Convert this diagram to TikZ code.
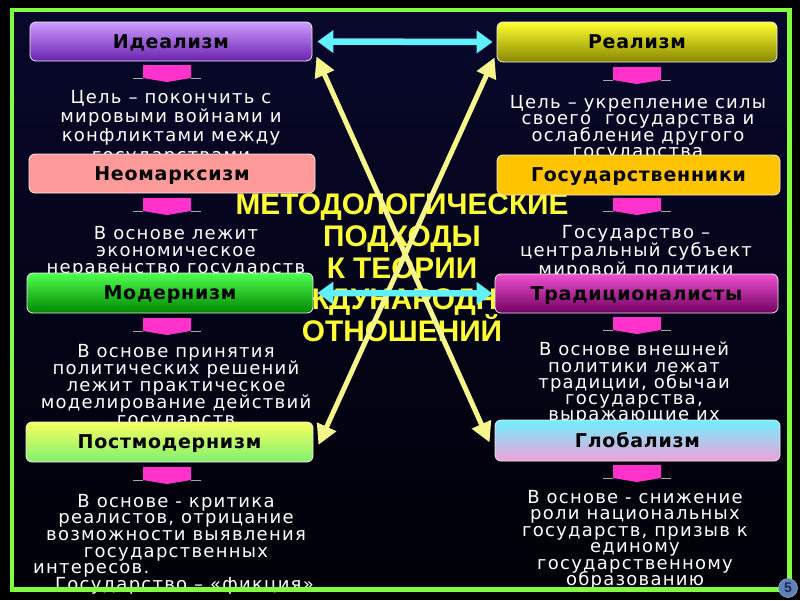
\documentclass[tikz,border=0pt]{standalone}
\usepackage{fontspec}
\usetikzlibrary{arrows.meta,calc}
\newfontfamily\bodyfont[LetterSpace=7]{DejaVu Sans}
\newfontfamily\labelfont[LetterSpace=4]{DejaVu Sans}
\newfontfamily\titlefont{Liberation Sans}
\setlength\lineskiplimit{-30pt}
\definecolor{bgtop}{HTML}{08082C}
\definecolor{bgmid}{HTML}{12125C}
\definecolor{bgbot}{HTML}{000006}
\definecolor{framegreen}{HTML}{80FF40}
\definecolor{cyanarr}{HTML}{60F0FF}
\definecolor{yelarr}{HTML}{F6F68C}
\definecolor{pinkarr}{HTML}{FF33CC}
\definecolor{titleyel}{HTML}{FFFF33}
\definecolor{numblue}{HTML}{6080B8}
\definecolor{numdark}{HTML}{1A2A50}
\newcommand\pinkarrow[2]{%
  \fill[pinkarr] (#1-24,#2) -- (#1+24,#2) -- (#1+24,#2+13) -- (#1,#2+17) -- (#1-24,#2+13) -- cycle;
  \draw[gray!70, line width=0.8pt] (#1-34,#2+13) -- (#1-24,#2+13) (#1+24,#2+13) -- (#1+34,#2+13);
}
\begin{document}
\begin{tikzpicture}[x=1pt,y=-1pt,
  box/.style={rounded corners=6pt, draw=white!85!gray, line width=0.8pt, inner sep=0pt,
    font=\labelfont\bfseries\fontsize{19}{20}\selectfont, text=black,
    text height=13.6pt, text depth=0pt},
  txt/.style={anchor=north, align=center, inner sep=0pt, text=white},
  cyanline/.style={cyanarr, line width=6.5pt, {Triangle[length=16pt,width=22pt]}-{Triangle[length=16pt,width=22pt]}},
  yelline/.style={yelarr, line width=5pt, {Triangle[length=20pt,width=20pt]}-{Triangle[length=20pt,width=20pt]}}
]
\useasboundingbox (0,0) rectangle (800,600);
\fill[black] (0,0) rectangle (800,600);
\fill[top color=bgtop, middle color=bgmid, bottom color=bgbot] (12,10) rectangle (789.5,589.5);

% body texts
\node[txt, font=\bodyfont\fontsize{18}{19.3}\selectfont] (tl1) at (171,89.9)
  {Цель – покончить с\\мировыми войнами и\\конфликтами между\\государствами};
\node[txt, font=\bodyfont\fontsize{18}{17}\selectfont] (tl2) at (176,225.9)
  {В основе лежит\\экономическое\\неравенство государств};
\node[txt, font=\bodyfont\fontsize{18}{17}\selectfont] (tl3) at (176,343.9)
  {В основе принятия\\политических решений\\лежит практическое\\моделирование действий\\государств};
\node[txt, font=\bodyfont\fontsize{18}{16.7}\selectfont] (tl4) at (176,493.9)
  {В основе - критика\\реалистов, отрицание\\возможности выявления\\государственных};
\node[anchor=base west, inner sep=0pt, text=white, font=\bodyfont\fontsize{18}{17}\selectfont] (tl5) at (33,573) {интересов.};
\node[anchor=base west, inner sep=0pt, text=white, font=\bodyfont\fontsize{18}{17}\selectfont] (tl6) at (55,590) {Государство – «фикция»};

\node[txt, font=\bodyfont\fontsize{18}{16.5}\selectfont] (tr1) at (638,94.9)
  {Цель – укрепление силы\\своего\ \ государства и\\ослабление другого\\государства};
\node[txt, font=\bodyfont\fontsize{18}{18.5}\selectfont] (tr2) at (636,224.9)
  {Государство –\\центральный субъект\\мировой политики};
\node[txt, font=\bodyfont\fontsize{18}{16.3}\selectfont] (tr3) at (634,341.9)
  {В основе внешней\\политики лежат\\традиции, обычаи\\государства,\\выражающие их};
\node[txt, font=\bodyfont\fontsize{18}{16.5}\selectfont] (tr4) at (635,489.9)
  {В основе - снижение\\роли национальных\\государств, призыв к\\единому\\государственному\\образованию};

% title
\node[anchor=north, align=center, inner sep=0pt, text=titleyel,
  font=\titlefont\bfseries\fontsize{29.8}{31.7}\selectfont] (title) at (402,193.7)
  {МЕТОДОЛОГИЧЕСКИЕ\\ПОДХОДЫ\\К ТЕОРИИ\\МЕЖДУНАРОДНЫХ\\ОТНОШЕНИЙ};

% boxes
\node[box, minimum width=282pt, minimum height=39pt, top color={rgb,255:red,205;green,155;blue,255}, bottom color={rgb,255:red,105;green,35;blue,175}] (ideal) at (171,41.5) {Идеализм};
\node[box, minimum width=286pt, minimum height=39pt, fill={rgb,255:red,255;green,154;blue,154}] (neo) at (172,173.5) {Неомарксизм};
\node[box, minimum width=286pt, minimum height=40pt, top color={rgb,255:red,80;green,255;blue,80}, bottom color={rgb,255:red,0;green,135;blue,0}] (modern) at (170,293) {Модернизм};
\node[box, minimum width=287pt, minimum height=40pt, top color={rgb,255:red,248;green,255;blue,96}, bottom color={rgb,255:red,128;green,240;blue,112}] (postm) at (169.5,442) {Постмодернизм};
\node[box, minimum width=280pt, minimum height=40pt, top color={rgb,255:red,255;green,255;blue,48}, bottom color={rgb,255:red,135;green,135;blue,0}] (real) at (637,42) {Реализм};
\node[box, minimum width=283pt, minimum height=40pt, fill={rgb,255:red,255;green,196;blue,0}] (gos) at (638.5,175) {Государственники};
\node[box, minimum width=283pt, minimum height=39pt, top color={rgb,255:red,240;green,80;blue,208}, bottom color={rgb,255:red,112;green,0;blue,96}] (trad) at (636.5,293.5) {Традиционалисты};
\node[box, minimum width=285pt, minimum height=41pt, top color={rgb,255:red,112;green,240;blue,255}, bottom color={rgb,255:red,240;green,160;blue,216}] (glob) at (637.5,440.5) {Глобализм};

% connectors
\draw[yelline] ($(ideal.south east)+(4,-5)$) -- ($(glob.west)+(-5,2)$);
\draw[yelline] ($(real.south west)+(-2,-5)$) -- ($(postm.east)+(5,3)$);
\draw[cyanline, shorten <=5pt, shorten >=4pt] (ideal.east) -- (real.west);
\draw[cyanline, shorten <=4pt, shorten >=2pt] (modern.east) -- (trad.west);

% pink arrows
\pinkarrow{167}{65}
\pinkarrow{167}{198}
\pinkarrow{167}{318}
\pinkarrow{167}{467}
\pinkarrow{637}{67}
\pinkarrow{637}{198}
\pinkarrow{637}{317}
\pinkarrow{637}{465}

% frame
\draw[framegreen, line width=4.5pt] (12,10) rectangle (789.5,589.5);
\node[circle, fill=numblue, draw=numblue!70!white, line width=0.6pt, minimum size=19pt, inner sep=0pt,
  font=\titlefont\bfseries\fontsize{14}{14}\selectfont, text=numdark] (num) at (788,588) {5};
\end{tikzpicture}
\end{document}
